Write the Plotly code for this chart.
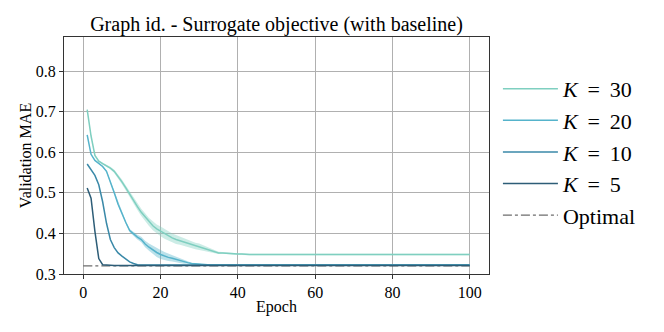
import plotly.graph_objects as go

epochs = list(range(1, 101))

k30_mean = [0.705, 0.640, 0.592, 0.578, 0.572, 0.567, 0.561, 0.553, 0.541, 0.527,
            0.512, 0.496, 0.480, 0.466, 0.452, 0.440, 0.428, 0.419, 0.411, 0.405,
            0.399, 0.394, 0.389, 0.385, 0.382, 0.379, 0.376, 0.372, 0.369, 0.367,
            0.364, 0.360, 0.357, 0.354, 0.352, 0.352, 0.351, 0.351, 0.350, 0.349,
            0.349, 0.348, 0.348, 0.348, 0.348, 0.348, 0.348, 0.348, 0.348, 0.348,
            0.348, 0.348, 0.348, 0.348, 0.348, 0.348, 0.348, 0.348, 0.348, 0.348,
            0.348, 0.348, 0.348, 0.348, 0.348, 0.348, 0.348, 0.348, 0.348, 0.348,
            0.348, 0.348, 0.348, 0.348, 0.348, 0.348, 0.348, 0.348, 0.348, 0.348,
            0.348, 0.348, 0.348, 0.348, 0.348, 0.348, 0.348, 0.348, 0.348, 0.348,
            0.348, 0.348, 0.348, 0.348, 0.348, 0.348, 0.348, 0.348, 0.348, 0.348]
k30_std = [0.001, 0.001, 0.002, 0.002, 0.002, 0.003, 0.003, 0.004, 0.005, 0.006,
           0.006, 0.007, 0.008, 0.008, 0.009, 0.010, 0.010, 0.011, 0.011, 0.012,
           0.012, 0.012, 0.011, 0.011, 0.010, 0.010, 0.009, 0.009, 0.008, 0.008,
           0.007, 0.006, 0.005, 0.004, 0.003, 0.002, 0.002, 0.002, 0.002, 0.002,
           0.002, 0.002, 0.002, 0.002, 0.002, 0.002, 0.002, 0.002, 0.002, 0.002,
           0.002, 0.002, 0.002, 0.002, 0.002, 0.002, 0.002, 0.002, 0.002, 0.002,
           0.002, 0.002, 0.002, 0.002, 0.002, 0.002, 0.002, 0.002, 0.002, 0.002,
           0.002, 0.002, 0.002, 0.002, 0.002, 0.002, 0.002, 0.002, 0.002, 0.002,
           0.002, 0.002, 0.002, 0.002, 0.002, 0.002, 0.002, 0.002, 0.002, 0.002,
           0.002, 0.002, 0.002, 0.002, 0.002, 0.002, 0.002, 0.002, 0.002, 0.002]

k20_mean = [0.643, 0.595, 0.580, 0.572, 0.565, 0.553, 0.528, 0.500, 0.472, 0.448,
            0.427, 0.407, 0.398, 0.391, 0.385, 0.374, 0.366, 0.359, 0.353, 0.348,
            0.344, 0.341, 0.339, 0.336, 0.333, 0.330, 0.328, 0.326, 0.325, 0.324,
            0.323, 0.323, 0.322, 0.322, 0.322, 0.322, 0.322, 0.322, 0.322, 0.322,
            0.322, 0.322, 0.322, 0.322, 0.322, 0.322, 0.322, 0.322, 0.322, 0.322,
            0.322, 0.322, 0.322, 0.322, 0.322, 0.322, 0.322, 0.322, 0.322, 0.322,
            0.322, 0.322, 0.322, 0.322, 0.322, 0.322, 0.322, 0.322, 0.322, 0.322,
            0.322, 0.322, 0.322, 0.322, 0.322, 0.322, 0.322, 0.322, 0.322, 0.322,
            0.322, 0.322, 0.322, 0.322, 0.322, 0.322, 0.322, 0.322, 0.322, 0.322,
            0.322, 0.322, 0.322, 0.322, 0.322, 0.322, 0.322, 0.322, 0.322, 0.322]
k20_std = [0.001, 0.001, 0.001, 0.001, 0.002, 0.002, 0.002, 0.002, 0.003, 0.003,
           0.003, 0.004, 0.005, 0.006, 0.007, 0.008, 0.009, 0.010, 0.011, 0.011,
           0.010, 0.009, 0.008, 0.007, 0.006, 0.005, 0.003, 0.002, 0.002, 0.001,
           0.001, 0.001, 0.001, 0.001, 0.001, 0.001, 0.001, 0.001, 0.001, 0.001,
           0.001, 0.001, 0.001, 0.001, 0.001, 0.001, 0.001, 0.001, 0.001, 0.001,
           0.001, 0.001, 0.001, 0.001, 0.001, 0.001, 0.001, 0.001, 0.001, 0.001,
           0.001, 0.001, 0.001, 0.001, 0.001, 0.001, 0.001, 0.001, 0.001, 0.001,
           0.001, 0.001, 0.001, 0.001, 0.001, 0.001, 0.001, 0.001, 0.001, 0.001,
           0.001, 0.001, 0.001, 0.001, 0.001, 0.001, 0.001, 0.001, 0.001, 0.001,
           0.001, 0.001, 0.001, 0.001, 0.001, 0.001, 0.001, 0.001, 0.001, 0.001]

k10_mean = [0.571, 0.556, 0.543, 0.520, 0.478, 0.425, 0.385, 0.365, 0.352, 0.344,
            0.337, 0.330, 0.326, 0.323, 0.322, 0.322, 0.322, 0.322, 0.322, 0.322,
            0.322, 0.322, 0.322, 0.322, 0.322, 0.322, 0.322, 0.322, 0.322, 0.322,
            0.322, 0.322, 0.322, 0.322, 0.322, 0.322, 0.322, 0.322, 0.322, 0.322,
            0.322, 0.322, 0.322, 0.322, 0.322, 0.322, 0.322, 0.322, 0.322, 0.322,
            0.322, 0.322, 0.322, 0.322, 0.322, 0.322, 0.322, 0.322, 0.322, 0.322,
            0.322, 0.322, 0.322, 0.322, 0.322, 0.322, 0.322, 0.322, 0.322, 0.322,
            0.322, 0.322, 0.322, 0.322, 0.322, 0.322, 0.322, 0.322, 0.322, 0.322,
            0.322, 0.322, 0.322, 0.322, 0.322, 0.322, 0.322, 0.322, 0.322, 0.322,
            0.322, 0.322, 0.322, 0.322, 0.322, 0.322, 0.322, 0.322, 0.322, 0.322]

k5_mean = [0.512, 0.487, 0.405, 0.338, 0.323, 0.322, 0.322, 0.321, 0.321, 0.321,
           0.321, 0.321, 0.321, 0.321, 0.321, 0.321, 0.321, 0.321, 0.321, 0.321,
           0.321, 0.321, 0.321, 0.321, 0.321, 0.321, 0.321, 0.321, 0.321, 0.321,
           0.321, 0.321, 0.321, 0.321, 0.321, 0.321, 0.321, 0.321, 0.321, 0.321,
           0.321, 0.321, 0.321, 0.321, 0.321, 0.321, 0.321, 0.321, 0.321, 0.321,
           0.321, 0.321, 0.321, 0.321, 0.321, 0.321, 0.321, 0.321, 0.321, 0.321,
           0.321, 0.321, 0.321, 0.321, 0.321, 0.321, 0.321, 0.321, 0.321, 0.321,
           0.321, 0.321, 0.321, 0.321, 0.321, 0.321, 0.321, 0.321, 0.321, 0.321,
           0.321, 0.321, 0.321, 0.321, 0.321, 0.321, 0.321, 0.321, 0.321, 0.321,
           0.321, 0.321, 0.321, 0.321, 0.321, 0.321, 0.321, 0.321, 0.321, 0.321]

optimal_x = [0, 100]
optimal_y = [0.32, 0.32]

FONT = "Liberation Serif, Times New Roman, serif"
EQ = "\u2009=\u2009"

series = [
    ("<i>K</i> " + EQ + " 30", k30_mean, k30_std, "#7fcfc0", "rgba(127,207,192,0.4)"),
    ("<i>K</i> " + EQ + " 20", k20_mean, k20_std, "#55b3cb", "rgba(85,179,203,0.4)"),
    ("<i>K</i> " + EQ + " 10", k10_mean, None, "#3a89a8", None),
    ("<i>K</i> " + EQ + " 5", k5_mean, None, "#2d5d77", None),
]

fig = go.Figure()

fig.add_trace(go.Scatter(x=optimal_x, y=optimal_y, mode="lines",
                         line=dict(color="rgba(60,60,60,0.75)", width=1.2, dash="dashdot"),
                         name="Optimal", legendrank=5))

for i, (name, mean, std, col, fill) in enumerate(series):
    if std is not None:
        upper = [m + s for m, s in zip(mean, std)]
        lower = [m - s for m, s in zip(mean, std)]
        fig.add_trace(go.Scatter(x=epochs, y=upper, mode="lines", line=dict(width=0),
                                 showlegend=False, hoverinfo="skip"))
        fig.add_trace(go.Scatter(x=epochs, y=lower, mode="lines", line=dict(width=0),
                                 fill="tonexty", fillcolor=fill,
                                 showlegend=False, hoverinfo="skip"))
    fig.add_trace(go.Scatter(x=epochs, y=mean, mode="lines",
                             line=dict(color=col, width=1.5), name=name,
                             legendrank=i + 1))

# page body has an 8px default margin; the div is offset by (8, 8)
W, H = 656, 324
L, R, T, B = 56, 175, 29, 58
fig.update_layout(
    width=W, height=H,
    margin=dict(l=L, r=R, t=T, b=B, autoexpand=False),
    paper_bgcolor="white", plot_bgcolor="white",
    font=dict(family=FONT, size=16, color="black"),
    title=dict(text="Graph id. - Surrogate objective (with baseline)",
               x=(L + (W - R)) / 2 / W, xanchor="center", y=1 - 16 / H, yanchor="middle",
               font=dict(family=FONT, size=20, color="black")),
    legend=dict(x=1.021, xanchor="left", y=0.515, yanchor="middle",
                font=dict(family=FONT, size=22, color="black"),
                bgcolor="rgba(0,0,0,0)", tracegroupgap=0, traceorder="normal",
                itemwidth=55),
    showlegend=True,
)

fig.update_xaxes(range=[-5, 105], tickvals=[0, 20, 40, 60, 80, 100],
                 showgrid=True, gridcolor="#b0b0b0", gridwidth=1,
                 showline=True, linecolor="#333", linewidth=1, mirror=True,
                 ticks="outside", ticklen=4, tickcolor="#333",
                 tickfont=dict(family=FONT, size=16), zeroline=False, automargin=False,
                 title=dict(text="Epoch", font=dict(family=FONT, size=16), standoff=0))
fig.update_yaxes(range=[0.3, 0.884], tickvals=[0.3, 0.4, 0.5, 0.6, 0.7, 0.8],
                 tickformat=".1f",
                 showgrid=True, gridcolor="#b0b0b0", gridwidth=1,
                 showline=True, linecolor="#333", linewidth=1, mirror=True,
                 ticks="outside", ticklen=4, tickcolor="#333",
                 tickfont=dict(family=FONT, size=16), zeroline=False, automargin=False,
                 title=dict(text="Validation MAE", font=dict(family=FONT, size=16), standoff=0))

fig.write_html("out.html")
